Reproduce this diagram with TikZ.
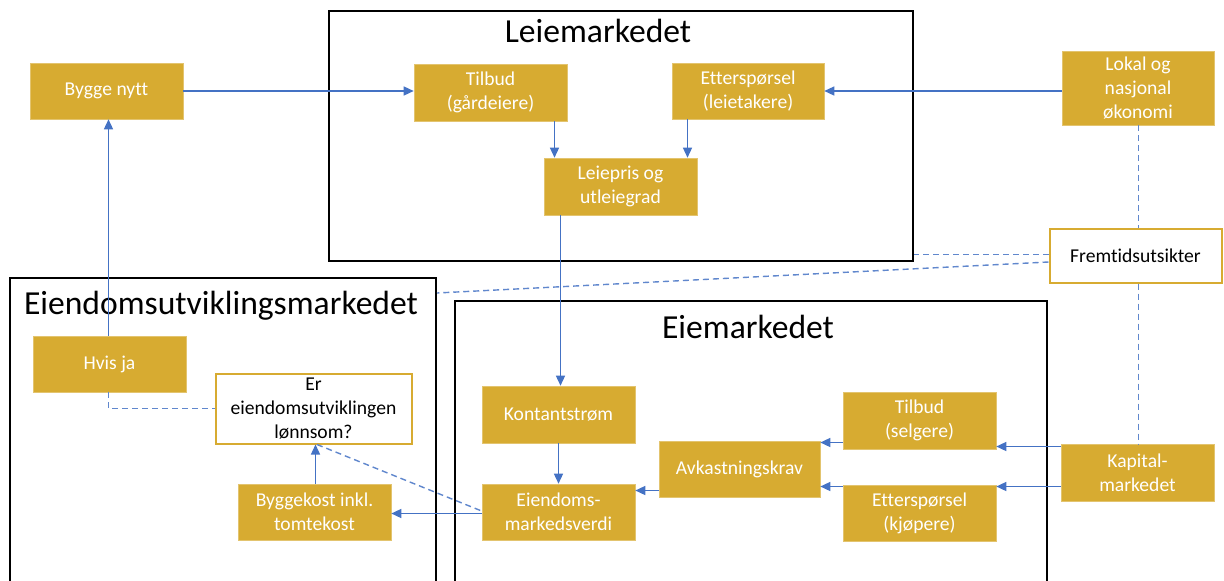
\documentclass[tikz,border=0pt]{standalone}
\usepackage{fontspec}
\setmainfont{Carlito}[Ligatures=NoCommon]
\usetikzlibrary{arrows.meta}
\definecolor{gold}{RGB}{215,171,49}
\definecolor{conn}{RGB}{68,114,196}
\tikzset{
  gbox/.style={fill=gold, draw=gold!70!white, line width=0.6pt, text=white, inner sep=0pt, align=center,
    font=\fontsize{19.6}{24}\selectfont},
  wbox/.style={fill=white, draw=gold, line width=2pt, text=black, inner sep=0pt, align=center,
    font=\fontsize{19.6}{24}\selectfont},
  frame/.style={draw=black, line width=2pt, fill=none, inner sep=0pt},
  ftitle/.style={font=\fontsize{33.6}{40}\selectfont, text=black, inner sep=0pt},
  arr/.style={draw=conn, line width=1.4pt, -{Triangle[length=10pt,width=9pt]}},
  dsh/.style={draw=conn!85!white, line width=1.4pt, dash pattern=on 6pt off 4pt},
}
\begin{document}
\begin{tikzpicture}[x=1pt,y=-1pt]
\useasboundingbox (0,0) rectangle (1224,581);
\clip (0,0) rectangle (1224,581);
\fill[white] (0,0) rectangle (1224,581);
% frames
\node[frame, minimum width=584pt, minimum height=250pt] (leieF) at (621,136) {};
\node[frame, minimum width=426pt, minimum height=330pt] (utvF) at (223,443) {};
\node[frame, minimum width=592pt, minimum height=310pt] (eieF) at (751,456) {};
\node[ftitle] (leieT) at (598,31) {Leiemarkedet};
\node[ftitle] (utvT) at (221,306) {Eiendomsutviklingsmarkedet};
\node[ftitle] (eieT) at (748,327) {Eiemarkedet};
% boxes
\node[gbox, minimum width=153pt, minimum height=56pt] (bygge) at (106.5,91) {Bygge nytt};
\node[gbox, minimum width=153pt, minimum height=57pt] (tilbudL) at (490.5,92.5) {Tilbud\\(gårdeiere)};
\node[gbox, minimum width=152pt, minimum height=56pt] (ettL) at (748,91) {Etterspørsel\\(leietakere)};
\node[gbox, minimum width=153pt, minimum height=57pt] (leiepris) at (620.5,186.5) {Leiepris og\\utleiegrad};
\node[gbox, minimum width=152pt, minimum height=74pt] (lokal) at (1138,88) {Lokal og\\nasjonal\\økonomi};
\node[wbox, minimum width=172pt, minimum height=54pt] (fremtid) at (1135.5,255.5) {Fremtidsutsikter};
\node[gbox, minimum width=153pt, minimum height=56pt] (hvis) at (109.5,364) {Hvis ja};
\node[wbox, minimum width=196pt, minimum height=70pt] (er) at (313.5,408.5) {Er\\eiendomsutviklingen\\lønnsom?};
\node[gbox, minimum width=153pt, minimum height=56pt] (bygg) at (314.5,512) {Byggekost inkl.\\tomtekost};
\node[gbox, minimum width=153pt, minimum height=57pt] (kont) at (558.5,414.5) {Kontantstrøm};
\node[gbox, minimum width=153pt, minimum height=56pt] (eiend) at (558.5,512) {Eiendoms-\\markedsverdi};
\node[gbox, minimum width=161pt, minimum height=56pt] (avk) at (739.5,469) {Avkastningskrav};
\node[gbox, minimum width=153pt, minimum height=57pt] (tilbudS) at (919.5,420.5) {Tilbud\\(selgere)};
\node[gbox, minimum width=153pt, minimum height=56pt] (ettS) at (919.5,513) {Etterspørsel\\(kjøpere)};
\node[gbox, minimum width=153pt, minimum height=57pt] (kap) at (1137.5,472.5) {Kapital-\\markedet};
% helper coordinates
\coordinate (x554) at (554.5,0);
\coordinate (x687) at (687.5,0);
\coordinate (x560) at (560.5,0);
\coordinate (x109) at (108.5,0);
\coordinate (x315) at (315.5,0);
\coordinate (x1138) at (1138.5,0);
\coordinate (y490) at (0,490.5);
\coordinate (y442) at (0,442.5);
\coordinate (y446) at (0,446.5);
\coordinate (y486) at (0,486.5);
\coordinate (y513) at (0,513.5);
\coordinate (y254) at (0,254.5);
\coordinate (y262) at (0,262);
\coordinate (y293) at (0,293);
\coordinate (x317) at (317,0);
\coordinate (y511) at (0,511);
% solid connectors
\draw[arr] (bygge.east) -- (bygge.east -| tilbudL.west);
\draw[arr] (hvis.north -| x109) -- (bygge.south -| x109);
\draw[arr] (tilbudL.south -| x554) -- (leiepris.north -| x554);
\draw[arr] (ettL.south -| x687) -- (leiepris.north -| x687);
\draw[arr] (ettL.east -| lokal.west) -- (ettL.east);
\draw[arr] (leiepris.south -| x560) -- (kont.north -| x560);
\draw[arr] (kont.south) -- (eiend.north);
\draw[arr] (avk.west |- y490) -- (eiend.east |- y490);
\draw[arr] (tilbudS.west |- y442) -- (avk.east |- y442);
\draw[arr] (ettS.west |- y486) -- (avk.east |- y486);
\draw[arr] (kap.west |- y446) -- (tilbudS.east |- y446);
\draw[arr] (kap.west |- y486) -- (ettS.east |- y486);
\draw[arr] (eiend.west |- y513) -- (bygg.east |- y513);
\draw[arr] (bygg.north -| x315) -- (er.south -| x315);
% dashed connectors
\draw[dsh] (hvis.south -| x109) -- (x109 |- er.west) -- (er.west);
\draw[dsh] (er.south -| x317) -- (eiend.west |- y511);
\draw[dsh] (lokal.south -| x1138) -- (fremtid.north -| x1138);
\draw[dsh] (fremtid.south -| x1138) -- (kap.north -| x1138);
\draw[dsh] (fremtid.west |- y254) -- (leieF.east |- y254);
\draw[dsh] (fremtid.west |- y262) -- (utvF.east |- y293);
\end{tikzpicture}
\end{document}
